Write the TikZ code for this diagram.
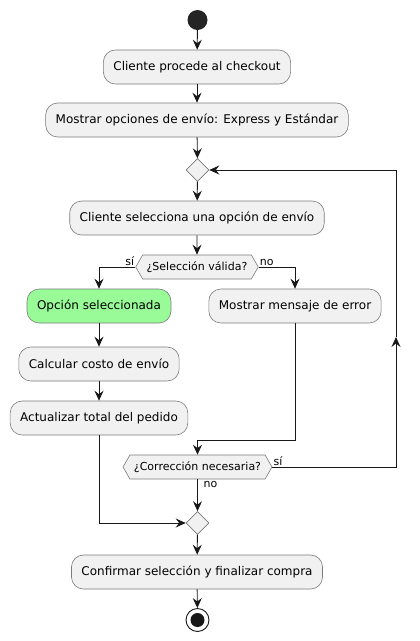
\documentclass[tikz,border=0pt]{standalone}
\usepackage{fontspec}
\setmainfont{DejaVu Sans}
\usetikzlibrary{shapes.geometric,shapes.symbols,arrows.meta}
\definecolor{boxfill}{HTML}{F1F1F1}
\definecolor{boxline}{HTML}{7A7A7A}
\definecolor{linec}{HTML}{181818}
\definecolor{okgreen}{HTML}{98FB98}
\tikzset{
  act/.style={draw=boxline, line width=0.6pt, fill=boxfill, rounded corners=12pt,
    minimum height=34pt, inner xsep=10pt, font=\fontsize{12}{14}\selectfont},
  hex/.style={signal, signal to=west and east, signal pointer angle=120,
    draw=boxline, line width=0.6pt, fill=boxfill, minimum height=24pt,
    inner xsep=4pt, inner ysep=2pt, font=\fontsize{11}{13}\selectfont},
  merge/.style={diamond, draw=boxline, line width=0.6pt, fill=boxfill, aspect=1,
    inner sep=0pt, minimum width=23pt, minimum height=23pt},
  arr/.style={draw=linec, line width=0.9pt, -{Stealth[length=10pt,width=9pt,inset=3.5pt]}},
  ln/.style={draw=linec, line width=0.9pt},
  lbl/.style={font=\fontsize{11}{13}\selectfont, inner sep=1pt}
}
\begin{document}
\begin{tikzpicture}[x=1pt,y=-1pt]
\useasboundingbox (0,0) rectangle (420,641);
\node[circle, fill=linec!95!white, minimum size=20pt, inner sep=0pt] (start) at (197.5,20) {};
\node[act] (b1) at (197,67) {Cliente procede al checkout};
\node[act] (b2) at (197,120) {Mostrar opciones de envío: Express y Estándar};
\node[merge] (m1) at (197.5,170) {};
\node[act] (b3) at (197,218) {Cliente selecciona una opción de envío};
\node[hex] (d1) at (197,267) {¿Selección válida?};
\node[act, fill=okgreen] (b4) at (99,306) {Opción seleccionada};
\node[act] (b5) at (295,306) {Mostrar mensaje de error};
\node[act] (b6) at (99,364) {Calcular costo de envío};
\node[act] (b7) at (99,418) {Actualizar total del pedido};
\node[hex] (d2) at (197.5,467) {¿Corrección necesaria?};
\node[merge] (m2) at (197.5,523) {};
\node[act] (b8) at (197,572) {Confirmar selección y finalizar compra};
\node[circle, draw=linec, line width=0.9pt, fill=white, minimum size=23pt, inner sep=0pt] (end) at (197.5,620) {};
\node[circle, fill=linec, minimum size=14pt, inner sep=0pt] (endin) at (end.center) {};

\coordinate (j1) at (197.5,440);
\coordinate (c1) at (396,467);
\coordinate (c3) at (396,337);
\coordinate (c2) at (396,170);

\draw[arr] (start) -- (b1);
\draw[arr] (b1) -- (b2);
\draw[arr] (b2) -- (m1);
\draw[arr] (m1) -- (b3);
\draw[arr] (b3) -- (d1);
\draw[arr] (d1.west) -| (b4.north);
\draw[arr] (d1.east) -| (b5.north);
\draw[arr] (b4) -- (b6);
\draw[arr] (b6) -- (b7);
\draw[arr] (b5.south) |- (j1) -- (d2.north);
\draw[arr] (d2.east) -- (c1) -- (c3);
\draw[arr] (c3) -- (c2) -- (m1.east);
\draw[arr] (d2.south) -- (m2.north);
\draw[arr] (b7.south) |- (m2.west);
\draw[arr] (m2) -- (b8);
\draw[arr] (b8) -- (end);

\node[lbl, anchor=south east] (l1) at (d1.west) {sí};
\node[lbl, anchor=south west] (l2) at (d1.east) {no};
\node[lbl, anchor=south west] (l3) at (d2.east) {sí};
\node[lbl, anchor=north west] (l4) at ([xshift=5pt,yshift=-1pt]d2.south) {no};
\end{tikzpicture}
\end{document}
